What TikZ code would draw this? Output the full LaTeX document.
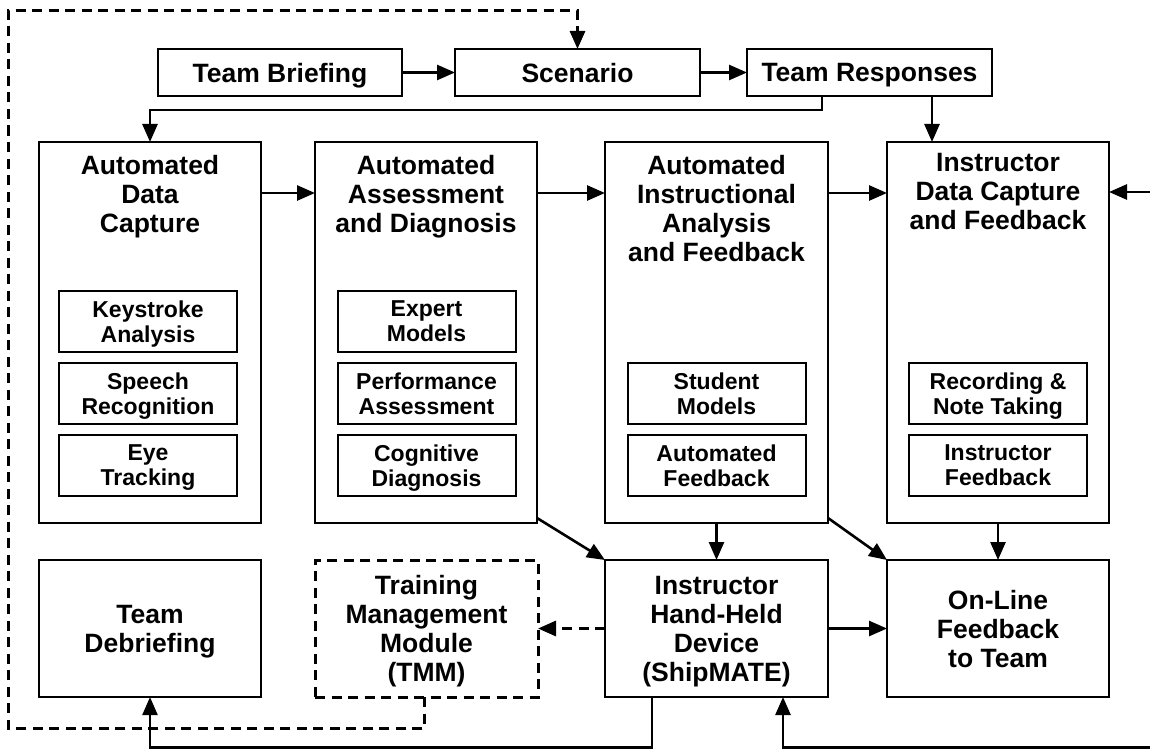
\documentclass[tikz,border=0pt]{standalone}
\usepackage{fontspec}
\setmainfont{Liberation Sans}
\usetikzlibrary{arrows.meta}
\newcommand\fbig{\fontsize{26.5}{29}\selectfont\bfseries}
\newcommand\fsmall{\fontsize{23}{25}\selectfont\bfseries}
\begin{document}
\begin{tikzpicture}[x=1pt,y=-1pt,
  box/.style={draw, line width=2.8pt, inner sep=0pt, outer sep=0pt, align=center, font=\fbig, text depth=0pt},
  bigbox/.style={draw, line width=2.8pt, inner sep=0pt, outer sep=0pt, minimum height=381pt},
  title/.style={inner sep=0pt, outer sep=0pt, align=center, font=\fbig, anchor=north},
  sub/.style={draw, line width=2pt, inner sep=0pt, outer sep=0pt, minimum width=178pt, minimum height=61pt, align=center, font=\fsmall, text depth=0pt},
  botbox/.style={box, minimum height=137pt},
  tip/.style={-{Triangle[length=18pt,width=15pt]}},
  arr/.style={line width=2.6pt, tip},
  arrtwo/.style={line width=2.6pt, {Triangle[length=18pt,width=15pt]}-{Triangle[length=18pt,width=15pt]}},
  dline/.style={line width=3pt, dash pattern=on 10pt off 6.5pt},
]
\useasboundingbox (0,0) rectangle (1150,749);

% top row
\node[box, minimum width=244pt, minimum height=47pt] (TB) at (280,72.5) {Team Briefing};
\node[box, minimum width=245pt, minimum height=47pt] (SC) at (577.5,72.5) {Scenario};
\node[box, minimum width=245pt, minimum height=47pt] (TR) at (869.5,72.5) {Team Responses};

% big boxes
\node[bigbox, minimum width=222pt] (ADC) at (150,332.5) {};
\node[bigbox, minimum width=222pt] (AAD) at (426,332.5) {};
\node[bigbox, minimum width=223pt] (AIAF) at (716.5,332.5) {};
\node[bigbox, minimum width=222pt] (IDCF) at (998,332.5) {};

\node[title] (ADCt) at (150,155) {Automated\\Data\\Capture};
\node[title] (AADt) at (426,155) {Automated\\Assessment\\and Diagnosis};
\node[title] (AIAFt) at (716.5,155) {Automated\\Instructional\\Analysis\\and Feedback};
\node[title] (IDCFt) at (998,153.5) {Instructor\\Data Capture\\and Feedback};

% inner boxes
\node[sub] (ka) at (148,321.5) {Keystroke\\Analysis};
\node[sub] (sr) at (148,393.5) {Speech\\Recognition};
\node[sub] (et) at (148,465.5) {Eye\\Tracking};
\node[sub] (em) at (426.5,321.5) {Expert\\Models};
\node[sub] (pa) at (426.5,393.5) {Performance\\Assessment};
\node[sub] (cd) at (426.5,465.5) {Cognitive\\Diagnosis};
\node[sub] (sm) at (716.5,393.5) {Student\\Models};
\node[sub] (af) at (716.5,465.5) {Automated\\Feedback};
\node[sub] (rn) at (998,393.5) {Recording \&\\Note Taking};
\node[sub] (ifb) at (998,465.5) {Instructor\\Feedback};

% bottom row
\node[botbox, minimum width=222pt] (TD) at (150,628.5) {Team\\Debriefing};
\node[botbox, minimum width=223pt, dash pattern=on 10pt off 6.5pt, line width=3pt] (TMM) at (426.5,628.5) {Training\\Management\\Module\\(TMM)};
\node[botbox, minimum width=223pt] (IHHD) at (716.5,628.5) {Instructor\\Hand-Held\\Device\\(ShipMATE)};
\node[botbox, minimum width=222pt] (OLFT) at (998,628.5) {On-Line\\Feedback\\to Team};

% coordinates
\coordinate (h) at (0,193);
\coordinate (d1) at (424,728);
\coordinate (d2) at (8,11);
\coordinate (t1) at (822,110);
\coordinate (t2) at (932,0);
\coordinate (r1) at (1155,192);
\coordinate (r2) at (1155,747.5);
\coordinate (r3) at (783,747.5);
\coordinate (b1) at (652,747.5);

% connectors
\draw[arr] (TB) -- (SC);
\draw[arr] (SC) -- (TR);
\draw[dline, tip] (TMM.south -| d1) -- (d1) -| (d2) -| (SC.north);
\draw[arr] (TR.south -| t1) -- (t1) -| (ADC.north);
\draw[arr] (TR.south -| t2) -- (IDCF.north -| t2);
\draw[arr] (ADC.east |- h) -- (AAD.west |- h);
\draw[arr] (AAD.east |- h) -- (AIAF.west |- h);
\draw[arr] (AIAF.east |- h) -- (IDCF.west |- h);
\draw[arrtwo] (IDCF.east |- r1) -- (r1) -- (r2) -- (r3) -- (IHHD.south -| r3);
\draw[arr] ([yshift=5pt]AAD.south east) -- (IHHD.north west);
\draw[arr] ([yshift=5pt]AIAF.south east) -- (OLFT.north west);
\draw[arr] (AIAF.south) -- (IHHD.north);
\draw[arr] (IDCF.south) -- (OLFT.north);
\draw[arr] (IHHD) -- (OLFT);
\draw[dline, tip] (IHHD.west) -- (TMM.east);
\draw[line width=2.2pt, tip] (IHHD.south -| b1) -- (b1) -| (TD.south);
\end{tikzpicture}
\end{document}
